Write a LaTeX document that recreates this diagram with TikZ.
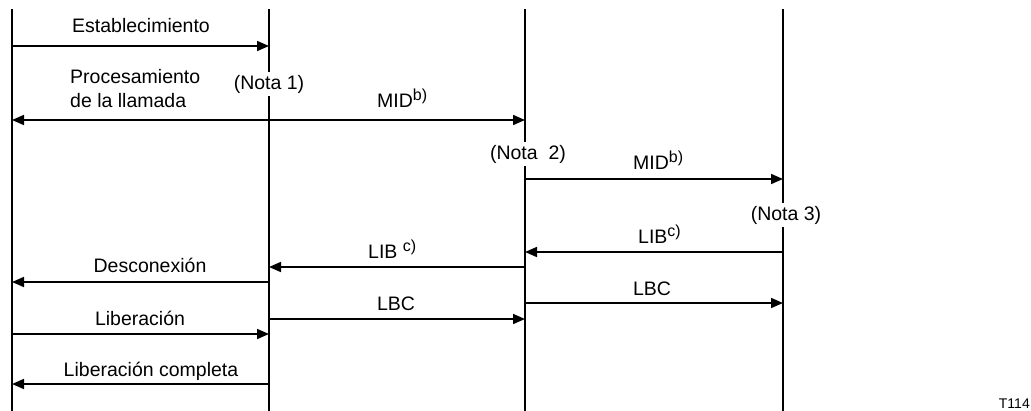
\documentclass[tikz,border=0pt]{standalone}
\usepackage{fontspec}
\setmainfont{Liberation Sans}
\usetikzlibrary{arrows.meta}
\newcommand{\supnote}[1]{\raisebox{7pt}{\fontsize{16}{18}\selectfont #1}}
\begin{document}
\begin{tikzpicture}[x=1pt,y=-1pt,
  every node/.style={font=\fontsize{19.5}{24}\selectfont, inner sep=0pt},
  lifeline/.style={line width=1.7pt},
  msg/.style={line width=1.7pt, -{Triangle[length=12pt,width=10pt]}},
  bimsg/.style={line width=1.7pt, {Triangle[length=12pt,width=10pt]}-{Triangle[length=12pt,width=10pt]}},
  lbl/.style={anchor=base},
  note/.style={anchor=base, fill=white, inner xsep=1pt, inner ysep=3pt}]
\useasboundingbox (0,0) rectangle (1031,410);
% lifelines
\coordinate (t1) at (12,9);   \coordinate (b1) at (12,412);
\coordinate (t2) at (269,9);  \coordinate (b2) at (269,412);
\coordinate (t3) at (525,9);  \coordinate (b3) at (525,412);
\coordinate (t4) at (783,9);  \coordinate (b4) at (783,412);
\draw[lifeline] (t1) -- (b1);
\draw[lifeline] (t2) -- (b2);
\draw[lifeline] (t3) -- (b3);
\draw[lifeline] (t4) -- (b4);
% message endpoints
\coordinate (e1) at (12,46);  \coordinate (e2) at (269,46);
\coordinate (p1) at (12,120); \coordinate (p3) at (525,120);
\coordinate (m3) at (525,179); \coordinate (m4) at (783,179);
\coordinate (l4) at (783,252); \coordinate (l3) at (525,252);
\coordinate (k3) at (525,267); \coordinate (k2) at (269,267);
\coordinate (d2) at (269,282); \coordinate (d1) at (12,282);
\coordinate (r3) at (525,303); \coordinate (r4) at (783,303);
\coordinate (s2) at (269,319); \coordinate (s3) at (525,319);
\coordinate (f1) at (12,334);  \coordinate (f2) at (269,334);
\coordinate (c2) at (269,384); \coordinate (c1) at (12,384);
% arrows
\draw[msg] (e1) -- (e2);
\draw[bimsg] (p1) -- (p3);
\draw[msg] (m3) -- (m4);
\draw[msg] (l4) -- (l3);
\draw[msg] (k3) -- (k2);
\draw[msg] (d2) -- (d1);
\draw[msg] (r3) -- (r4);
\draw[msg] (s2) -- (s3);
\draw[msg] (f1) -- (f2);
\draw[msg] (c2) -- (c1);
% labels
\node[lbl] (lEst) at (141,32) {Establecimiento};
\node[lbl, anchor=base west] (lProc1) at (70,83) {Procesamiento};
\node[lbl, anchor=base west] (lProc2) at (70,107) {de la llamada};
\node[note] (n1) at (269,89) {(Nota 1)};
\node[lbl, anchor=base west] (lMid1) at (377,107) {MID\supnote{b)}};
\node[note] (n2) at (528,159) {(Nota\ \ 2)};
\node[lbl, anchor=base west] (lMid2) at (633,169) {MID\supnote{b)}};
\node[note] (n3) at (786,220) {(Nota 3)};
\node[lbl, anchor=base west] (lLib2) at (638,243) {LIB\supnote{c)}};
\node[lbl, anchor=base west] (lLib1) at (368,258) {LIB \supnote{c)}};
\node[lbl] (lDes) at (150,272) {Desconexión};
\node[lbl] (lLbc2) at (652,295) {LBC};
\node[lbl] (lLbc1) at (396,310) {LBC};
\node[lbl] (lLib) at (140,325) {Liberación};
\node[lbl] (lLibc) at (151,376) {Liberación completa};
\node[anchor=south east, font=\fontsize{14}{16}\selectfont] (tag) at (1030,409) {T114};
\end{tikzpicture}
\end{document}
